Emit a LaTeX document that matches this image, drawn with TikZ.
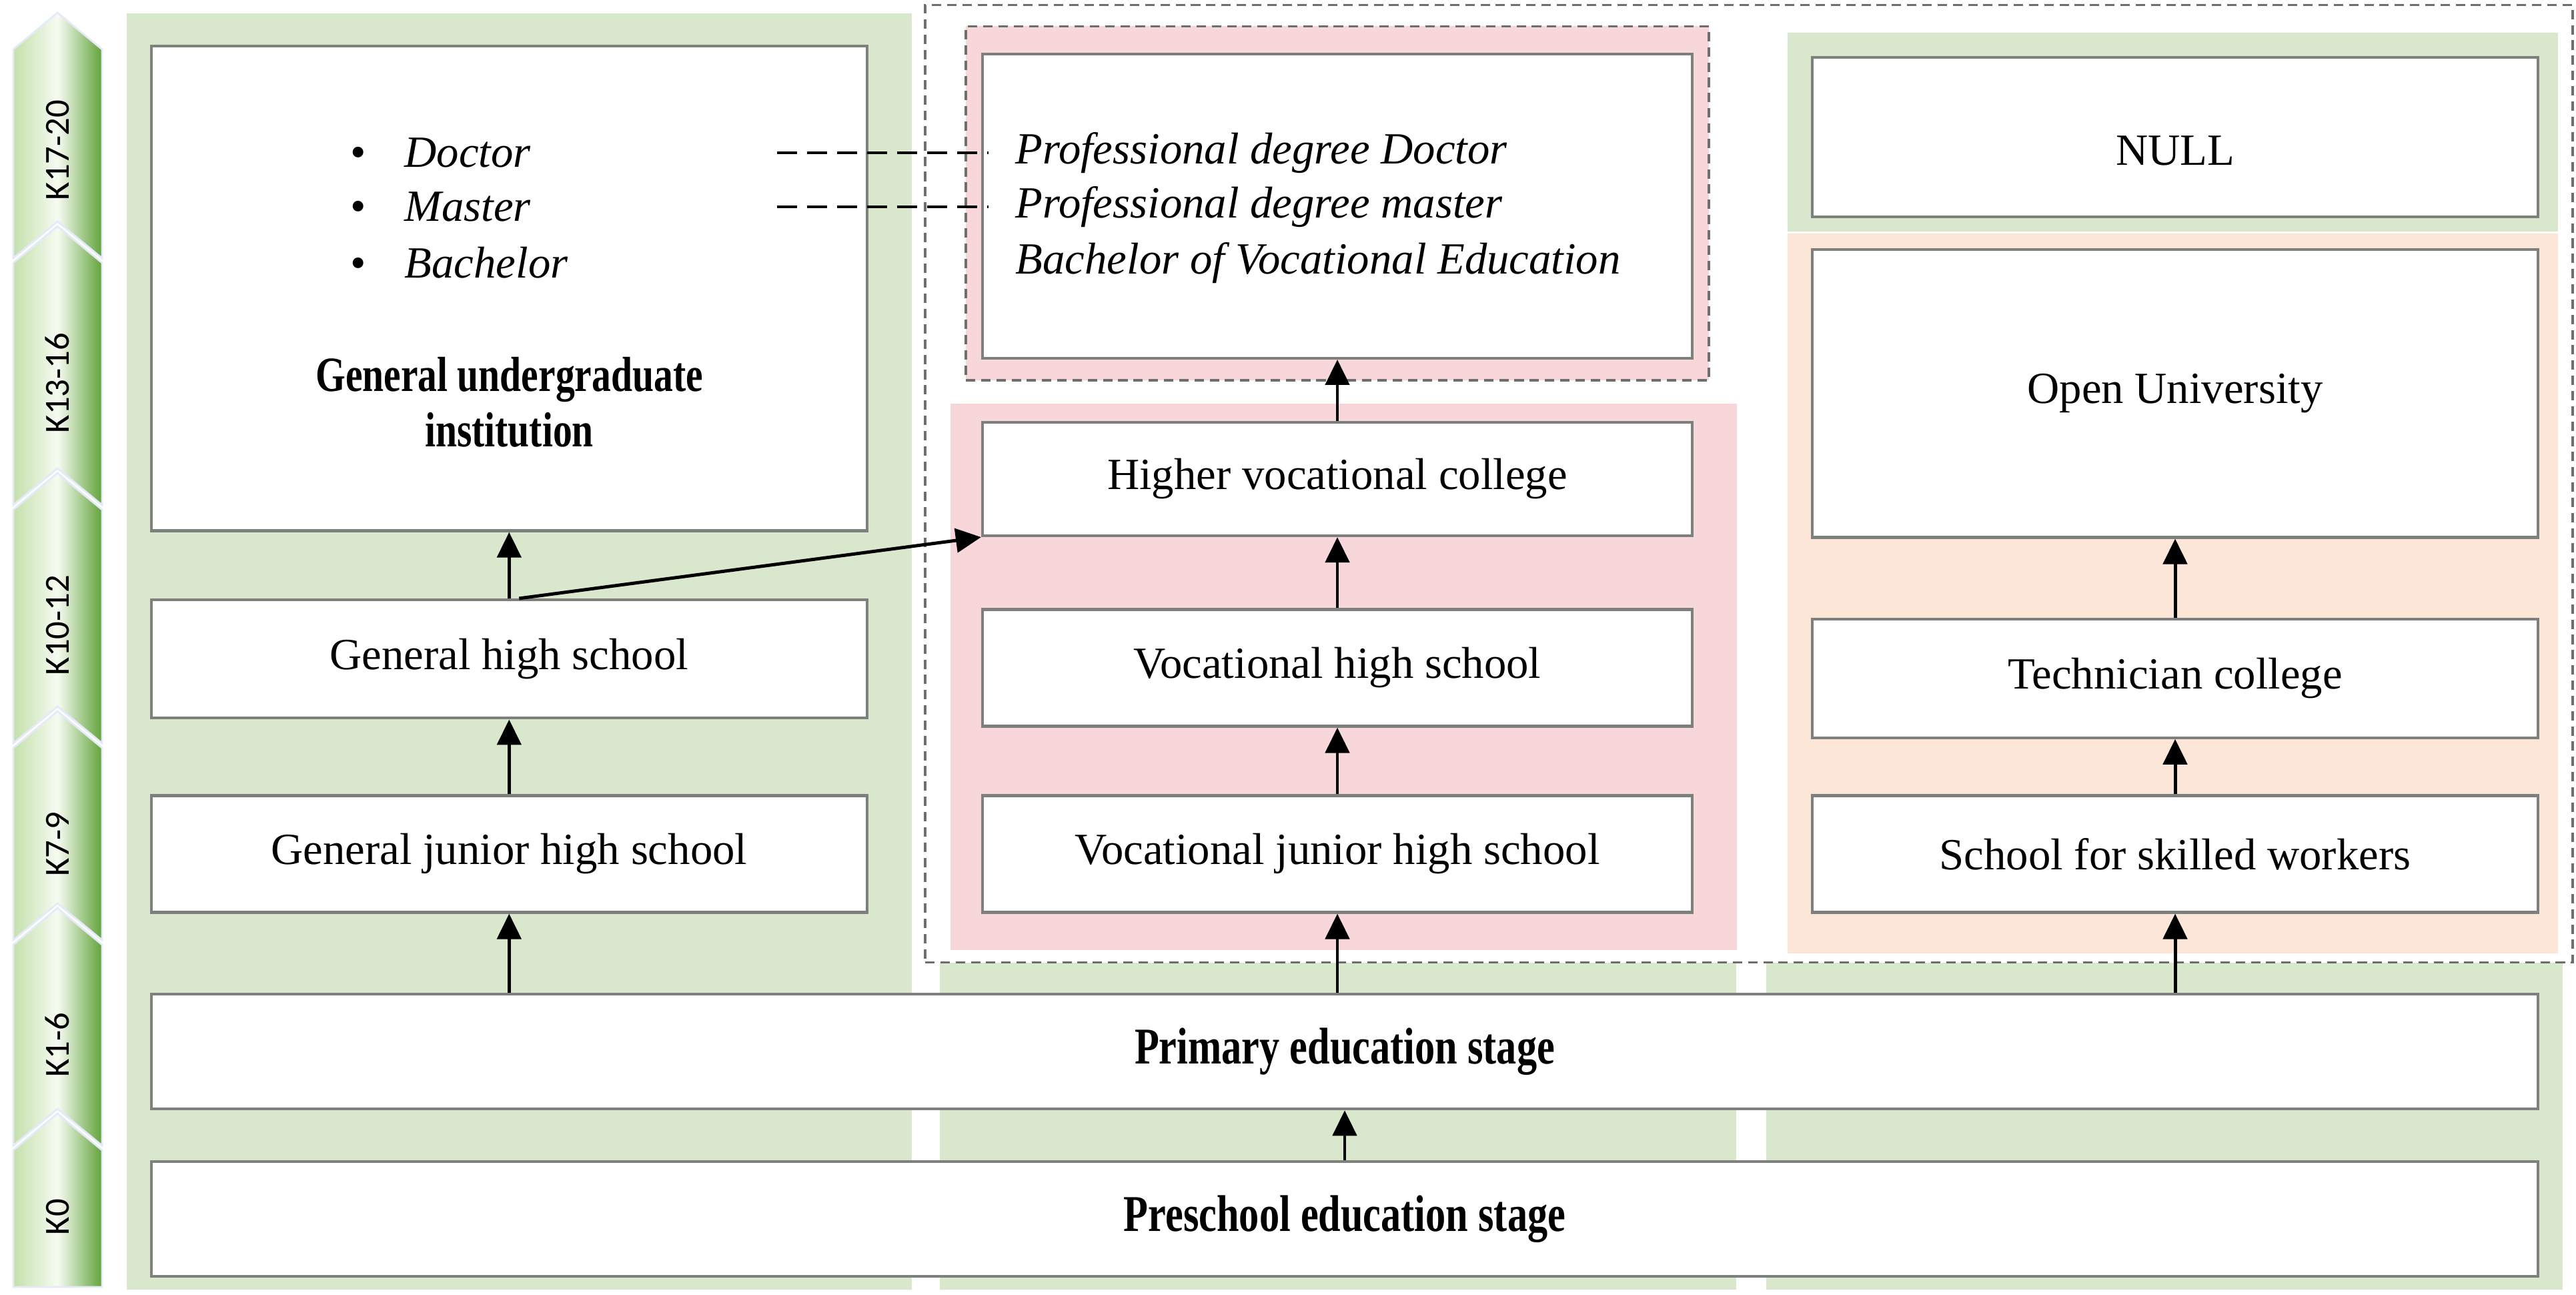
\documentclass[tikz,border=0pt]{standalone}
\usepackage{fontspec}
\setmainfont{Liberation Serif}
\newfontfamily\tallserif[FakeStretch=0.78]{Liberation Serif}
\newfontfamily\chevfont{Carlito}
\usetikzlibrary{arrows.meta, positioning, calc}
\definecolor{panelgreen}{RGB}{217,231,204}
\definecolor{panelpink}{RGB}{248,215,219}
\definecolor{panelpeach}{RGB}{251,230,216}
\definecolor{boxgray}{RGB}{125,128,125}
\definecolor{dashgray}{RGB}{110,110,110}
\definecolor{chevleft}{RGB}{196,224,172}
\definecolor{chevmid}{RGB}{246,251,242}
\definecolor{chevright}{RGB}{98,163,58}
\definecolor{chevedge}{RGB}{228,234,250}

\begin{document}
\begin{tikzpicture}[
    panel/.style={inner sep=0pt, outer sep=0pt, draw=none},
    zone/.style={draw=dashgray, line width=0.9pt, dash pattern=on 4pt off 2.5pt},
    stagebox/.style={draw=boxgray, line width=1.2pt, fill=white, inner sep=0pt, align=center, font=\fontsize{19}{23.5}\selectfont},
    boldbox/.style={stagebox, font=\tallserif\fontsize{22}{23.5}\selectfont\bfseries},
    listitem/.style={anchor=west, inner sep=0pt, font=\fontsize{19}{23.5}\selectfont\itshape},
    chev/.style={draw=chevedge, line width=0.8pt, left color=chevleft, right color=chevright, middle color=chevmid},
    klabel/.style={rotate=90, font=\chevfont\fontsize{15}{18}\selectfont},
    arrow/.style={-{Triangle[length=0.38cm, width=0.36cm]}, line width=1.4pt},
    linkdash/.style={line width=1.4pt, dash pattern=on 0.3cm off 0.15cm}
]
    \useasboundingbox (0,0) rectangle (38.62,-19.41);

    % Grade bar on the left
    \path[chev] (0.2,-0.74) -- (0.862,-0.19) -- (1.53,-0.74) -- (1.53,-3.87) -- (0.862,-3.32) -- (0.2,-3.87) -- cycle;
    \path[chev] (0.2,-3.94) -- (0.862,-3.39) -- (1.53,-3.94) -- (1.53,-7.57) -- (0.862,-7.02) -- (0.2,-7.57) -- cycle;
    \path[chev] (0.2,-7.64) -- (0.862,-7.09) -- (1.53,-7.64) -- (1.53,-11.14) -- (0.862,-10.59) -- (0.2,-11.14) -- cycle;
    \path[chev] (0.2,-11.21) -- (0.862,-10.66) -- (1.53,-11.21) -- (1.53,-14.09) -- (0.862,-13.54) -- (0.2,-14.09) -- cycle;
    \path[chev] (0.2,-14.16) -- (0.862,-13.61) -- (1.53,-14.16) -- (1.53,-17.17) -- (0.862,-16.62) -- (0.2,-17.17) -- cycle;
    \path[chev] (0.2,-17.24) -- (0.862,-16.69) -- (1.53,-17.24) -- (1.53,-19.29) -- (0.2,-19.29) -- cycle;
    \node[klabel] (k17) at (0.862,-2.25) {K17-20};
    \node[klabel] (k13) at (0.862,-5.74) {K13-16};
    \node[klabel] (k10) at (0.862,-9.37) {K10-12};
    \node[klabel] (k7) at (0.862,-12.65) {K7-9};
    \node[klabel] (k1) at (0.862,-15.66) {K1-6};
    \node[klabel] (k0) at (0.862,-18.24) {K0};

    % Column panels
    \node[panel, fill=panelgreen, minimum width=11.77cm, minimum height=19.13cm] (colA) at (7.785,-9.765) {};
    \node[panel, fill=panelgreen, minimum width=11.94cm, minimum height=19.13cm] (colB) at (20.06,-9.765) {};
    \node[panel, fill=panelgreen, minimum width=11.94cm, minimum height=19.13cm] (colC) at (32.45,-9.765) {};

    % Vocational part
    \node[panel, zone, fill=white, minimum width=24.70cm, minimum height=14.35cm] (vocregion) at (26.22,-7.25) {};
    \node[panel, zone, fill=panelpink, minimum width=11.14cm, minimum height=5.306cm] (degreezone) at (20.05,-3.047) {};
    \node[panel, fill=panelpink, minimum width=11.79cm, minimum height=8.19cm] (voczone) at (20.14,-10.145) {};
    \node[panel, fill=panelgreen, minimum width=11.55cm, minimum height=2.98cm] (nullzone) at (32.575,-1.983) {};
    \node[panel, fill=panelpeach, minimum width=11.55cm, minimum height=10.79cm] (skillzone) at (32.575,-8.894) {};

    % General education
    \node[stagebox, minimum width=10.73cm, minimum height=7.265cm] (undergrad) at (7.633,-4.323) {};
    \node[stagebox, minimum width=10.73cm, minimum height=1.773cm] (genhigh) at (7.633,-9.877) {General high school};
    \node[stagebox, minimum width=10.73cm, minimum height=1.749cm] (genjunior) at (7.633,-12.80) {General junior high school};
    \node[listitem] (doctor) at (5.25,-2.29) {\makebox[0.81cm][l]{\upshape\textbullet}Doctor};
    \node[listitem] (master) at (5.25,-3.10) {\makebox[0.81cm][l]{\upshape\textbullet}Master};
    \node[listitem] (bachelor) at (5.25,-3.94) {\makebox[0.81cm][l]{\upshape\textbullet}Bachelor};
    \node[align=center, font=\tallserif\fontsize{21}{23.8}\selectfont\bfseries] (undertitle) at (7.635,-6.03) {General undergraduate\\institution};

    % Vocational education
    \node[stagebox, minimum width=10.64cm, minimum height=4.556cm] (profdeg) at (20.05,-3.091) {};
    \node[stagebox, minimum width=10.64cm, minimum height=1.70cm] (highvoc) at (20.05,-7.18) {Higher vocational college};
    \node[stagebox, minimum width=10.64cm, minimum height=1.749cm] (vochigh) at (20.05,-10.01) {Vocational high school};
    \node[stagebox, minimum width=10.64cm, minimum height=1.749cm] (vocjunior) at (20.05,-12.80) {Vocational junior high school};
    \node[listitem] (profdoc) at (15.22,-2.29) {Professional degree Doctor};
    \node[listitem] (profmaster) at (15.22,-3.10) {Professional degree master};
    \node[listitem] (bachvoc) at (15.22,-3.94) {Bachelor of Vocational Education};

    % Skills training
    \node[stagebox, minimum width=10.88cm, minimum height=2.389cm, text height=0.85cm] (nullbox) at (32.61,-2.057) {NULL};
    \node[stagebox, minimum width=10.88cm, minimum height=4.310cm] (openuni) at (32.61,-5.899) {Open University};
    \node[stagebox, minimum width=10.88cm, minimum height=1.773cm] (technician) at (32.61,-10.17) {Technician college};
    \node[stagebox, minimum width=10.88cm, minimum height=1.749cm] (skilled) at (32.61,-12.80) {School for skilled workers};

    % Common stages
    \node[boldbox, minimum width=35.78cm, minimum height=1.724cm] (primary) at (20.16,-15.76) {Primary education stage};
    \node[boldbox, minimum width=35.78cm, minimum height=1.724cm] (preschool) at (20.16,-18.27) {Preschool education stage};

    % Arrows
    \draw[arrow] (preschool.north) -- (primary.south);
    \draw[arrow] (genjunior.south |- primary.north) -- (genjunior.south);
    \draw[arrow] (genjunior.north) -- (genhigh.south);
    \draw[arrow] (genhigh.north) -- (undergrad.south);
    \draw[arrow] ([xshift=0.15cm]genhigh.north) -- (highvoc.south west);
    \draw[arrow] (vocjunior.south |- primary.north) -- (vocjunior.south);
    \draw[arrow] (vocjunior.north) -- (vochigh.south);
    \draw[arrow] (vochigh.north) -- (highvoc.south);
    \draw[arrow] (highvoc.north) -- (profdeg.south);
    \draw[arrow] (skilled.south |- primary.north) -- (skilled.south);
    \draw[arrow] (skilled.north) -- (technician.south);
    \draw[arrow] (technician.north) -- (openuni.south);

    % Degree links
    \coordinate (linkstart) at (11.65,0);
    \draw[linkdash] (linkstart |- profdoc.west) -- ([xshift=-0.4cm]profdoc.west);
    \draw[linkdash] (linkstart |- profmaster.west) -- ([xshift=-0.4cm]profmaster.west);
\end{tikzpicture}
\end{document}
